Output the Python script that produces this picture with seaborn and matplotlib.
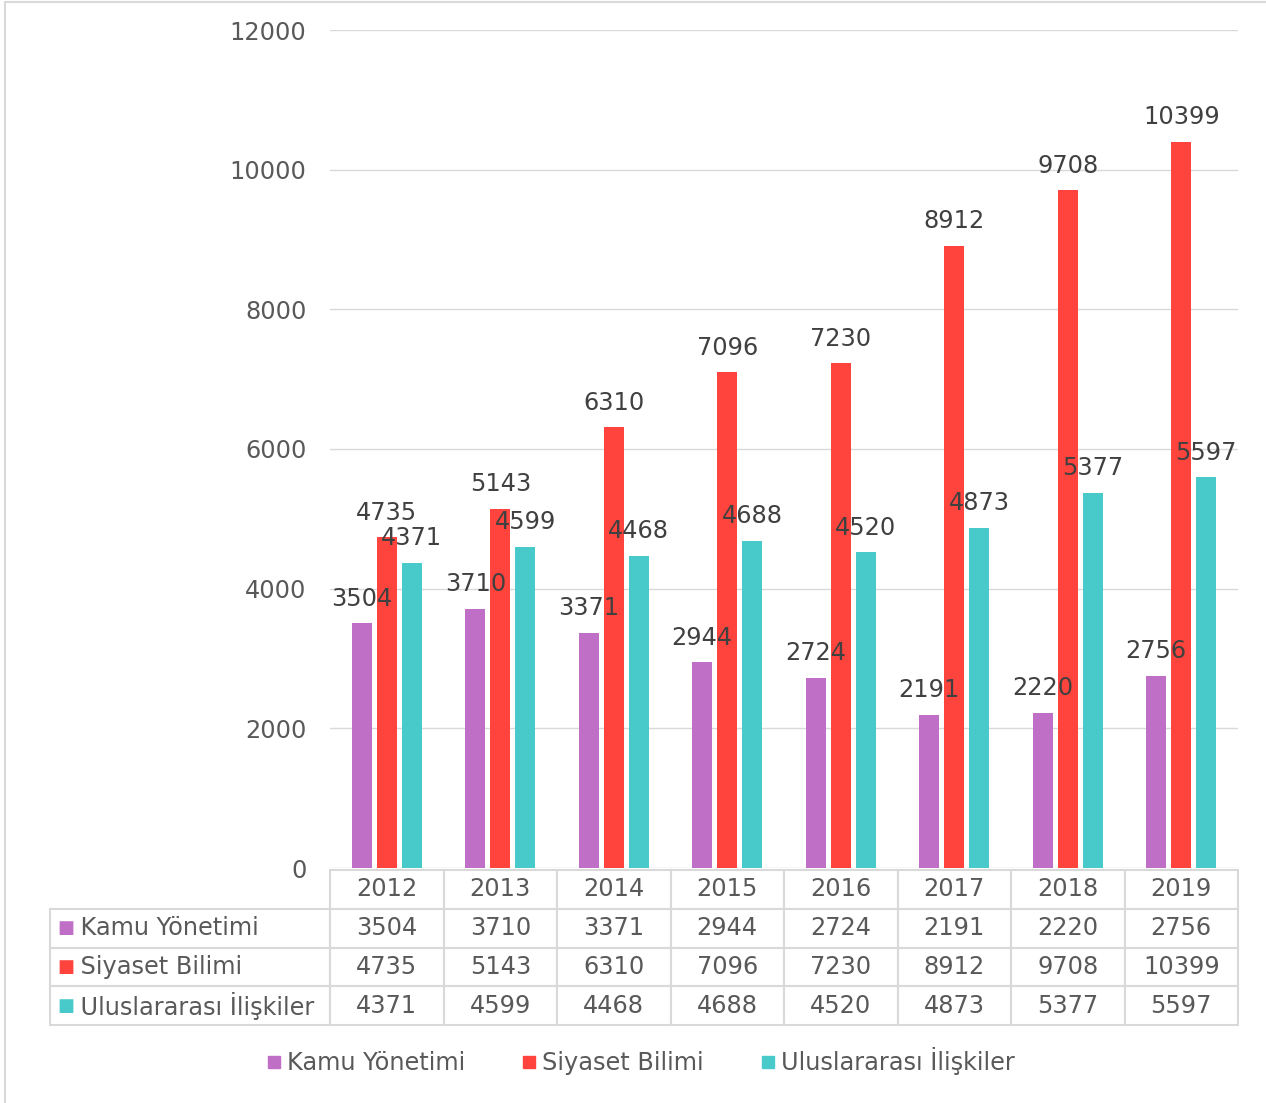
import matplotlib
matplotlib.use("Agg")
import matplotlib.pyplot as plt
from matplotlib.lines import Line2D
import numpy as np
import pandas as pd
import seaborn as sns

years = ['2012', '2013', '2014', '2015', '2016', '2017', '2018', '2019']
series = ['Kamu Yönetimi', 'Siyaset Bilimi', 'Uluslararası İlişkiler']
kamu = [3504, 3710, 3371, 2944, 2724, 2191, 2220, 2756]
siyaset = [4735, 5143, 6310, 7096, 7230, 8912, 9708, 10399]
uluslar = [4371, 4599, 4468, 4688, 4520, 4873, 5377, 5597]
colors = ['#C06FC6', '#FF443D', '#48CACB']

values = [kamu, siyaset, uluslar]
df = pd.DataFrame({
    'year': years * 3,
    'series': [s for s in series for _ in years],
    'value': kamu + siyaset + uluslar,
})

sns.set_style('white')
plt.rcParams['font.family'] = ['DejaVu Sans']
text_c = '#595959'
grid_c = '#D9D9D9'
fs = 17.3

fig = plt.figure(figsize=(12.66, 11.03), dpi=100)
ax = fig.add_axes([330/1266, 1 - 868/1103, 908/1266, 838/1103])

sns.barplot(data=df, x='year', y='value', hue='series', order=years,
            hue_order=series, palette=colors, saturation=1, width=0.66, gap=0.2,
            linewidth=0, ax=ax, legend=False)

for cont in ax.containers:
    ax.bar_label(cont, fmt='%d', padding=9, fontsize=fs, color='#404040')

ax.set_ylim(0, 12000)
ax.set_yticks(np.arange(0, 12001, 2000))
ax.yaxis.grid(True, color=grid_c, linewidth=1)
ax.set_axisbelow(True)
ax.tick_params(axis='y', length=0, pad=17, labelsize=fs, labelcolor=text_c)
ax.set_xticks([])
ax.set_xlabel('')
ax.set_ylabel('')
for sp in ax.spines.values():
    sp.set_visible(False)

# data table under the chart
cell_text = [[''] + years]
for name, vals in zip(series, values):
    cell_text.append([' ' * 4 + name] + [str(v) for v in vals])

tbl_left = -280 / 908
tbl_top = -2 / 838
tbl_h = 155 / 838
tbl = ax.table(cellText=cell_text, colWidths=[280] + [113.5] * 8,
               cellLoc='center', bbox=[tbl_left, tbl_top - tbl_h, 1 - tbl_left, tbl_h])
tbl.auto_set_font_size(False)
for (r, c), cell in tbl.get_celld().items():
    cell.set_edgecolor(grid_c)
    cell.set_linewidth(1.5)
    cell.get_text().set_fontsize(fs)
    cell.get_text().set_color(text_c)
    if c == 0:
        cell.get_text().set_ha('left')
        cell._loc = 'left'
        cell.PAD = 0.0
    if r == 0 and c == 0:
        cell.set_visible(False)

row_h = tbl_h / 4
for i, col in enumerate(colors):
    yc = tbl_top - row_h * (i + 1.5)
    ax.text(tbl_left + 7 / 908, yc, '■', color=col, fontsize=13,
            transform=ax.transAxes, va='center', ha='left')

handles = [Line2D([], [], marker='s', linestyle='', markersize=9,
                  markerfacecolor=c, markeredgecolor=c) for c in colors]
fig.legend(handles, series, loc='center', bbox_to_anchor=(640 / 1266, 1 - 1061 / 1103),
           ncol=3, frameon=False, fontsize=fs, labelcolor=text_c,
           handletextpad=0.2, columnspacing=2.3, handlelength=0.7)

fig.add_artist(Line2D([5 / 1266, 5 / 1266], [0, 1 - 2 / 1103], color=grid_c,
                      linewidth=1.5, transform=fig.transFigure))
fig.add_artist(Line2D([5 / 1266, 1], [1 - 2 / 1103, 1 - 2 / 1103], color=grid_c,
                      linewidth=1.5, transform=fig.transFigure))

fig.savefig('out.png', dpi=100, facecolor='white')
